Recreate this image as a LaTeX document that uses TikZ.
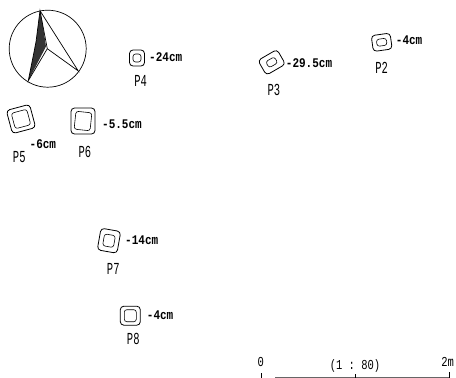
\documentclass[tikz,border=0pt]{standalone}
\usepackage{fontspec}
\setmonofont{Liberation Mono}
\usetikzlibrary{positioning}
\begin{document}
\begin{tikzpicture}[
        x=1pt, y=-1pt,
        pitouter/.style={draw, rounded corners=3.5pt, line width=0.8pt, inner sep=0pt},
        pitinner/.style={draw, rounded corners=2.5pt, line width=0.6pt, inner sep=0pt},
        depth/.style={anchor=west, inner sep=0pt, font=\ttfamily\bfseries\fontsize{11}{11}\selectfont, yscale=1.2, transform shape},
        pitname/.style={inner sep=0pt, font=\ttfamily\fontsize{10.5}{11}\selectfont, yscale=1.6, transform shape},
        scalelabel/.style={inner sep=0pt, font=\ttfamily\fontsize{10.5}{11}\selectfont, yscale=1.3, transform shape}
    ]
        \useasboundingbox (0,0) rectangle (456,378);

        % North arrow
        \node[draw, circle, line width=0.7pt, minimum size=77pt, inner sep=0pt] (compass) at (47.7,48.7) {};
        \coordinate (ntop) at (40,10.7);
        \coordinate (nleft) at (36,42);
        \coordinate (nbottom) at (28.3,80.7);
        \coordinate (ncentre) at (47.3,48.7);
        \coordinate (nright) at (78.3,71);
        \fill[black!80] (ntop) -- (nleft) -- (nbottom) -- (46,46.5) -- (42,20) -- cycle;
        \draw[line width=0.7pt] (ntop) -- (nright) -- (ncentre) -- (nbottom) -- (nleft) -- (ntop) -- (ncentre);

        % Pits
        \node[pitouter, minimum width=19pt, minimum height=16pt, rotate=8] (p2out) at (381.7,42.3) {};
        \node[pitinner, minimum width=10pt, minimum height=7pt, rotate=8] (p2in) at (p2out.center) {};
        \node[pitouter, minimum width=22pt, minimum height=17pt, rotate=30] (p3out) at (271.7,62.3) {};
        \node[pitinner, minimum width=10pt, minimum height=7pt, rotate=30] (p3in) at (p3out.center) {};
        \node[pitouter, minimum width=15pt, minimum height=16pt] (p4out) at (137,58) {};
        \node[pitinner, minimum width=8pt, minimum height=8pt] (p4in) at (p4out.center) {};
        \node[pitouter, minimum width=24pt, minimum height=24pt, rotate=15] (p5out) at (21,119) {};
        \node[pitinner, minimum width=16pt, minimum height=16pt, rotate=15] (p5in) at (p5out.center) {};
        \node[pitouter, minimum width=24pt, minimum height=26pt] (p6out) at (83,121) {};
        \node[pitinner, minimum width=16pt, minimum height=18pt, rotate=-6] (p6in) at (p6out.center) {};
        \node[pitouter, minimum width=20pt, minimum height=22pt, rotate=-10] (p7out) at (109,240.7) {};
        \node[pitinner, minimum width=11pt, minimum height=12pt, rotate=-10] (p7in) at (p7out.center) {};
        \node[pitouter, minimum width=20pt, minimum height=19pt] (p8out) at (130.3,315.7) {};
        \node[pitinner, minimum width=12pt, minimum height=12pt] (p8in) at (p8out.center) {};

        % Depths
        \node[depth] (d2) at (395.7,40) {-4cm};
        \node[depth] (d3) at (285.7,63) {-29.5cm};
        \node[depth] (d4) at (149,57) {-24cm};
        \node[depth] (d5) at (29.5,144) {-6cm};
        \node[depth] (d6) at (102,124) {-5.5cm};
        \node[depth] (d7) at (125,240.7) {-14cm};
        \node[depth] (d8) at (146.7,315) {-4cm};

        % Names
        \node[pitname] (p2) at (381.7,67.7) {P2};
        \node[pitname] (p3) at (274,90) {P3};
        \node[pitname] (p4) at (140.7,81) {P4};
        \node[pitname] (p5) at (19.3,157) {P5};
        \node[pitname] (p6) at (85,152) {P6};
        \node[pitname] (p7) at (113.3,269) {P7};
        \node[pitname] (p8) at (133.3,339) {P8};

        % Scale bar
        \node[scalelabel] (zero) at (260.7,362) {0};
        \node[scalelabel] (ratio) at (355,365.7) {(1 : 80)};
        \node[scalelabel] (two) at (447.7,362) {2m};
        \coordinate (sleft) at (261,377.5);
        \coordinate (sstart) at (275,377.5);
        \coordinate (smid) at (355,377.5);
        \coordinate (sright) at (449.5,377.5);
        \draw[line width=0.4pt, black!60] (sstart) -- (sright);
        \draw[line width=0.6pt] (sleft) -- ++(0,-5);
        \draw[line width=0.6pt] (smid) -- ++(0,-4);
        \draw[line width=0.6pt] (sright) -- ++(0,-6);
\end{tikzpicture}
\end{document}
